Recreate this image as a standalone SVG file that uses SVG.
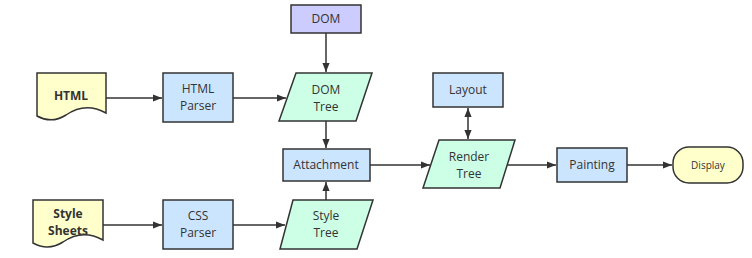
<svg xmlns="http://www.w3.org/2000/svg" width="752" height="258" viewBox="0 0 752 258">
<defs>
<marker id="ah" viewBox="0 0 10 10" refX="10" refY="5" markerWidth="9" markerHeight="9" markerUnits="userSpaceOnUse" orient="auto-start-reverse">
<path d="M0,1 L10,5 L0,9 Z" fill="#333"/>
</marker>
<style>
.s{stroke:#333;stroke-width:1.5}
.doc{fill:#ffffcc}
.proc{fill:#cce5ff}
.dom{fill:#ccccff}
.tree{fill:#ccffe6}
.t{font-family:"Open Sans","Noto Sans",sans-serif;font-size:12px;fill:#333;text-anchor:middle}
.b{font-weight:bold}
.c{fill:none;stroke:#333;stroke-width:1.5;marker-end:url(#ah)}
</style>
</defs>
<rect width="752" height="258" fill="#fff"/>
<g id="connectors">
<path class="c" d="M106,98 H162"/>
<path class="c" d="M233,98 H286"/>
<path class="c" d="M326,33 V72"/>
<path class="c" d="M326,121 V148"/>
<path class="c" d="M326,200 V182"/>
<path class="c" d="M103,225 H162"/>
<path class="c" d="M233,225 H285"/>
<path class="c" d="M370,165 H430"/>
<path class="c" d="M468,108 V139" style="marker-start:url(#ah)"/>
<path class="c" d="M507,165 H556"/>
<path class="c" d="M627,165 H672"/>
</g>
<g id="html">
<path class="s doc" d="M37,73 H106 V113 C90,104 76,108 66,115 C55,122 46,121 37,116 Z"/>
<text class="t b" x="71" y="100">HTML</text>
</g>
<g id="html-parser">
<rect class="s proc" x="163" y="73" width="70" height="49"/>
<text class="t" x="198" y="93">HTML</text>
<text class="t" x="198" y="110">Parser</text>
</g>
<g id="dom">
<rect class="s dom" x="291" y="5" width="70" height="28"/>
<text class="t" x="326" y="23">DOM</text>
</g>
<g id="dom-tree">
<path class="s tree" d="M296,73 H372 L356,121 H279 Z"/>
<text class="t" x="326" y="94">DOM</text>
<text class="t" x="326" y="111">Tree</text>
</g>
<g id="attachment">
<rect class="s proc" x="283" y="149" width="87" height="32"/>
<text class="t" x="326" y="169">Attachment</text>
</g>
<g id="style-sheets">
<path class="s doc" d="M33,200 H103 V240 C87,231 73,235 63,242 C52,249 42,248 33,243 Z"/>
<text class="t b" x="68" y="218">Style</text>
<text class="t b" x="68" y="235">Sheets</text>
</g>
<g id="css-parser">
<rect class="s proc" x="163" y="200" width="70" height="49"/>
<text class="t" x="198" y="220">CSS</text>
<text class="t" x="198" y="237">Parser</text>
</g>
<g id="style-tree">
<path class="s tree" d="M293,200 H373 L357,249 H280 Z"/>
<text class="t" x="326" y="220">Style</text>
<text class="t" x="326" y="237">Tree</text>
</g>
<g id="layout">
<rect class="s proc" x="433" y="73" width="70" height="34"/>
<text class="t" x="468" y="94">Layout</text>
</g>
<g id="render-tree">
<path class="s tree" d="M439,140 H515 L500,188 H423 Z"/>
<text class="t" x="469" y="161">Render</text>
<text class="t" x="469" y="178">Tree</text>
</g>
<g id="painting">
<rect class="s proc" x="557" y="148" width="70" height="34"/>
<text class="t" x="592" y="169">Painting</text>
</g>
<g id="display">
<rect class="s doc" x="673" y="147" width="70" height="36" rx="16" ry="16"/>
<text class="t" x="708" y="169" style="font-size:10px">Display</text>
</g>
</svg>
